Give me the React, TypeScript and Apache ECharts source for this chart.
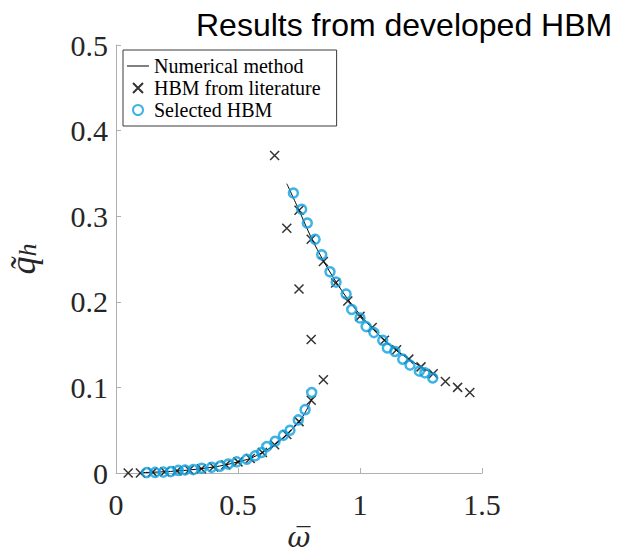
import React, { useEffect, useRef } from "react";
import * as echarts from "echarts";

// Numerical method (two branches)
const numLowerX = [0.11, 0.2, 0.3, 0.4, 0.45, 0.5, 0.55, 0.6, 0.65, 0.7, 0.75, 0.78, 0.805];
const numLowerY = [0.0005, 0.0015, 0.0035, 0.007, 0.0095, 0.013, 0.017, 0.024, 0.033, 0.045, 0.06, 0.073, 0.088];
const numUpperX = [0.7, 0.75, 0.8, 0.85, 0.9, 0.95, 1.0, 1.05, 1.1, 1.15, 1.2, 1.25, 1.3, 1.315];
const numUpperY = [0.338, 0.307, 0.275, 0.248, 0.224, 0.203, 0.185, 0.169, 0.155, 0.143, 0.133, 0.124, 0.116, 0.114];

// HBM from literature
const litX = [
  0.05, 0.1, 0.15, 0.2, 0.25, 0.3, 0.35, 0.4, 0.45, 0.5, 0.55, 0.6, 0.65, 0.7, 0.75, 0.8,
  0.65, 0.7, 0.75, 0.8, 0.85,
  0.75, 0.8, 0.85, 0.9, 0.95, 1.0, 1.05, 1.1, 1.15, 1.2, 1.25, 1.3, 1.35, 1.4, 1.45,
];
const litY = [
  0.0, 0.0, 0.001, 0.0015, 0.0025, 0.0035, 0.005, 0.007, 0.0095, 0.013, 0.017, 0.024, 0.033, 0.045, 0.06, 0.085,
  0.371, 0.286, 0.215, 0.156, 0.109,
  0.307, 0.273, 0.247, 0.222, 0.201, 0.183, 0.17, 0.155, 0.144, 0.133, 0.124, 0.116, 0.107, 0.1, 0.094,
];

// Selected HBM
const selX = [
  0.126, 0.16, 0.194, 0.224, 0.255, 0.283, 0.317, 0.351, 0.392, 0.426, 0.46, 0.495, 0.536, 0.57, 0.597, 0.618,
  0.652, 0.686, 0.713, 0.747, 0.775, 0.802,
  0.727, 0.761, 0.784, 0.816, 0.843, 0.877, 0.902, 0.943, 0.966, 1.0, 1.025, 1.057, 1.093, 1.112, 1.143, 1.175,
  1.205, 1.243, 1.266, 1.298,
];
const selY = [
  0.0005, 0.0007, 0.001, 0.0016, 0.003, 0.0035, 0.004, 0.0055, 0.0066, 0.008, 0.0105, 0.013, 0.016, 0.02, 0.024, 0.031,
  0.037, 0.044, 0.05, 0.062, 0.074, 0.094,
  0.327, 0.308, 0.292, 0.273, 0.255, 0.235, 0.223, 0.209, 0.191, 0.181, 0.171, 0.164, 0.155, 0.146, 0.142, 0.133,
  0.126, 0.119, 0.117, 0.111,
];

const xTicks = [0, 0.5, 1, 1.5];
const yTicks = [0, 0.1, 0.2, 0.3, 0.4, 0.5];

const zip = (xs: number[], ys: number[]) => xs.map((x, i) => [x, ys[i]]);

const SERIF = "Liberation Serif";
const AXIS_GREY = "#b0b0b0";
const LABEL = "#262626";
const BLUE = "#0fa0de";

export default function App() {
  const ref = useRef<HTMLDivElement>(null);
  useEffect(() => {
    document.body.style.margin = "0";
    const chart = echarts.init(ref.current!, null, { renderer: "svg" });
    const option: any = {
      animation: false,
      backgroundColor: "#ffffff",
      textStyle: { fontFamily: SERIF },
      title: {
        text: "Results from developed HBM",
        left: 196,
        top: 9,
        padding: 0,
        textStyle: {
          fontFamily: "Liberation Sans",
          fontSize: 32,
          fontWeight: "normal",
          color: "#000000",
        },
      },
      grid: {
        left: 116,
        top: 45,
        width: 366,
        height: 428,
        containLabel: false,
        outerBoundsMode: "none",
      },
      legend: {
        orient: "vertical",
        left: 123,
        top: 50,
        padding: [6, 16, 6, 4],
        itemGap: 2,
        itemWidth: 22,
        itemHeight: 10,
        symbolKeepAspect: true,
        backgroundColor: "#ffffff",
        borderColor: "#3a3a3a",
        borderWidth: 1,
        borderRadius: 0,
        textStyle: { fontFamily: SERIF, fontSize: 20, color: "#000000" },
        data: [
          { name: "Numerical method", icon: "path://M0,0H22V1H0Z" },
          { name: "HBM from literature" },
          { name: "Selected HBM" },
        ],
      },
      xAxis: {
        type: "value",
        min: 0,
        max: 1.5,
        interval: 0.5,
        name: "ω\u0305",
        nameLocation: "middle",
        nameGap: 50,
        nameTextStyle: {
          fontFamily: "DejaVu Serif",
          fontStyle: "italic",
          fontSize: 28,
          lineHeight: 24,
          color: LABEL,
        },
        axisLine: { show: true, lineStyle: { color: AXIS_GREY, width: 1 } },
        axisTick: { show: true, inside: true, length: 5, lineStyle: { color: AXIS_GREY } },
        splitLine: { show: false },
        axisLabel: {
          margin: 16,
          fontFamily: SERIF,
          fontSize: 30,
          color: LABEL,
          formatter: (v: number) => (xTicks.includes(v) ? String(v) : ""),
        },
      },
      yAxis: {
        type: "value",
        min: 0,
        max: 0.5,
        interval: 0.1,
        name: "{q|q\u0303}{h|h}",
        nameLocation: "middle",
        nameRotate: 90,
        nameGap: 76,
        nameTextStyle: {
          rich: {
            q: { fontFamily: SERIF, fontStyle: "italic", fontSize: 36, color: LABEL, lineHeight: 34, verticalAlign: "middle" },
            h: {
              fontFamily: SERIF,
              fontStyle: "italic",
              fontSize: 26,
              color: LABEL,
              lineHeight: 34,
              verticalAlign: "bottom",
              padding: [10, 0, 0, 0],
            },
          },
        },
        axisLine: { show: true, lineStyle: { color: AXIS_GREY, width: 1 } },
        axisTick: { show: true, inside: true, length: 5, lineStyle: { color: AXIS_GREY } },
        splitLine: { show: false },
        axisLabel: {
          margin: 8,
          fontFamily: SERIF,
          fontSize: 30,
          color: LABEL,
          formatter: (v: number) => {
            const r = Math.round(v * 10) / 10;
            return yTicks.includes(r) ? String(r) : "";
          },
        },
      },
      series: [
        {
          name: "Numerical method",
          type: "line",
          data: zip(numLowerX, numLowerY),
          showSymbol: false,
          symbol: "none",
          smooth: 0.3,
          lineStyle: { color: "#000000", width: 1 },
          itemStyle: { color: "#000000" },
          z: 2,
        },
        {
          name: "Numerical method",
          type: "line",
          data: zip(numUpperX, numUpperY),
          showSymbol: false,
          symbol: "none",
          smooth: 0.3,
          lineStyle: { color: "#000000", width: 1 },
          itemStyle: { color: "#000000" },
          z: 2,
        },
        {
          name: "HBM from literature",
          type: "scatter",
          data: zip(litX, litY),
          symbol: "path://M0,0L10,10M10,0L0,10",
          symbolSize: 9,
          itemStyle: { color: "rgba(0,0,0,0)", borderColor: "#000000", borderWidth: 1.5 },
          z: 3,
        },
        {
          name: "Selected HBM",
          type: "scatter",
          data: zip(selX, selY),
          symbol: "circle",
          symbolSize: 9,
          itemStyle: { color: "rgba(0,0,0,0)", borderColor: BLUE, borderWidth: 2.5 },
          z: 4,
        },
      ],
    };
    chart.setOption(option);
    return () => chart.dispose();
  }, []);
  return <div ref={ref} style={{ width: 631, height: 553 }} />;
}
